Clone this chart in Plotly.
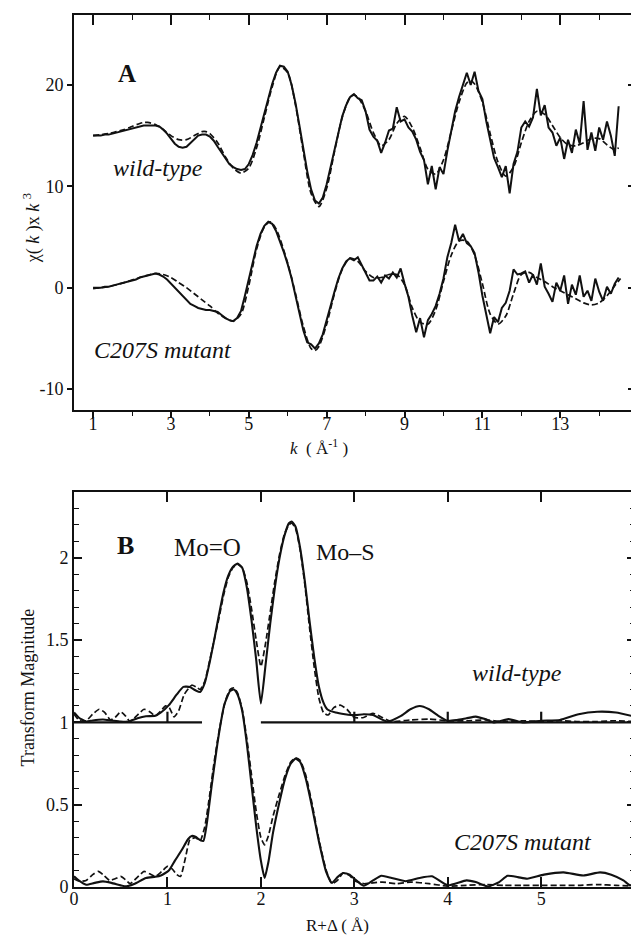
import numpy as np
import plotly.graph_objects as go

# ---------------- Panel A data: chi(k)*k^3 ----------------
k_exp = np.round(np.arange(10, 146) / 10.0, 1)  # 1.0 .. 14.5 sampling grid

wt_exp = [15.0, 15.0, 15.0, 15.1, 15.1, 15.2, 15.3, 15.4, 15.5, 15.6,
          15.7, 15.8, 15.9, 16.0, 16.0, 16.0, 16.0, 15.9, 15.6, 15.2,
          14.7, 14.2, 13.9, 13.8, 13.9, 14.3, 14.7, 15.0, 15.1, 15.1,
          14.9, 14.5, 13.9, 13.3, 12.7, 12.2, 11.9, 11.7, 11.6, 11.7,
          12.2, 13.1, 14.3, 15.7, 17.2, 18.7, 20.1, 21.2, 21.9, 21.8,
          21.3, 20.0, 18.2, 16.0, 13.7, 11.5, 9.7, 8.6, 8.3, 8.9,
          10.2, 11.8, 13.6, 15.3, 16.9, 18.0, 18.8, 19.1, 18.7, 18.5,
          17.4, 15.6, 14.9, 14.5, 13.3, 14.3, 15.5, 15.7, 17.8, 16.4,
          16.6, 15.8, 15.4, 14.6, 13.4, 12.6, 10.2, 12.0, 9.7, 11.9,
          11.2, 13.5, 15.4, 17.4, 18.8, 19.9, 21.2, 20.0, 21.3, 19.4,
          18.6, 16.4, 14.6, 12.8, 11.9, 10.9, 12.0, 9.3, 12.2, 13.4,
          15.8, 16.4, 15.9, 16.8, 19.6, 17.0, 18.0, 15.8, 15.3, 14.0,
          14.8, 12.7, 14.6, 13.3, 15.6, 14.2, 18.4, 13.6, 15.3, 13.5,
          15.8, 14.6, 16.4, 15.0, 13.0, 17.9]

mut_exp = [0.0, 0.0, 0.0, 0.1, 0.1, 0.2, 0.3, 0.4, 0.5, 0.6,
           0.7, 0.8, 1.0, 1.1, 1.2, 1.3, 1.4, 1.3, 1.1, 0.8,
           0.4, 0.0, -0.5, -0.9, -1.3, -1.6, -1.8, -2.0, -2.1, -2.2,
           -2.2, -2.3, -2.4, -2.7, -3.0, -3.2, -3.3, -3.0, -2.3, -0.8,
           0.9, 2.6, 4.1, 5.3, 6.1, 6.5, 6.3, 5.6, 4.6, 3.5,
           2.3, 0.9, -0.8, -2.5, -4.2, -5.4, -5.6, -6.0, -5.5, -4.6,
           -3.3, -1.8, -0.4, 0.9, 1.9, 2.6, 2.9, 2.7, 3.0, 2.2,
           1.4, 0.7, 0.7, 1.1, 0.5, 1.2, 0.9, 1.5, 1.0, 1.9,
           0.4, -0.9, -2.8, -4.4, -3.0, -4.9, -3.2, -2.6, -1.8, -0.6,
           0.9, 3.0, 4.4, 6.2, 4.6, 5.3, 4.4, 4.1, 3.4, 1.5,
           -0.8, -2.5, -4.5, -2.9, -3.4, -2.0, -1.5, -0.3, 1.8, 1.3,
           1.4, 1.6, 0.5, 1.3, 0.3, 2.4, 0.1, -0.6, -1.4, 0.5,
           -0.3, 1.2, -1.6, 0.3, -0.7, 1.2, -0.9, -0.3, -1.3, 0.9,
           -0.4, -1.3, 0.1, -0.6, 0.4, 1.0]

k_wt_fit = [1.0, 1.2, 1.4, 1.6, 1.8, 2.0, 2.2, 2.3, 2.4, 2.6, 2.8, 3.0, 3.2, 3.4,
            3.6, 3.8, 3.9, 4.0, 4.2, 4.4, 4.6, 4.8, 5.0, 5.2, 5.4, 5.6, 5.8, 6.0,
            6.2, 6.4, 6.6, 6.8, 7.0, 7.2, 7.4, 7.6, 7.7, 7.8, 8.0, 8.2, 8.4, 8.6,
            8.8, 9.0, 9.2, 9.4, 9.6, 9.8, 10.0, 10.2, 10.4, 10.6, 10.7, 10.8, 11.0,
            11.2, 11.4, 11.6, 11.8, 12.0, 12.2, 12.4, 12.6, 12.8, 13.0, 13.2, 13.4,
            13.6, 13.8, 14.0, 14.2, 14.4, 14.5]
wt_fit = [15.0, 15.1, 15.2, 15.4, 15.6, 15.9, 16.2, 16.3, 16.3, 16.1, 15.6, 15.0, 14.6, 14.6,
          15.0, 15.4, 15.4, 15.2, 14.3, 12.9, 11.8, 11.3, 11.8, 13.8, 16.8, 19.8, 21.8, 21.2,
          18.0, 13.4, 9.3, 8.0, 9.8, 13.4, 16.8, 18.8, 19.0, 18.8, 17.4, 15.3, 14.0, 14.6,
          16.2, 16.9, 15.8, 13.8, 11.7, 11.2, 12.6, 15.4, 18.3, 20.2, 20.4, 20.1, 18.3,
          15.2, 12.4, 11.0, 11.9, 14.3, 16.4, 17.4, 17.1, 16.0, 14.8, 14.1, 14.0,
          14.3, 14.7, 14.7, 14.1, 13.6, 13.8]

k_mut_fit = [1.0, 1.4, 1.8, 2.2, 2.6, 2.8, 3.0, 3.2, 3.4, 3.6, 3.8, 4.0, 4.2, 4.4, 4.6,
             4.8, 5.0, 5.2, 5.4, 5.55, 5.7, 6.0, 6.2, 6.4, 6.6, 6.7, 6.8, 7.0, 7.2,
             7.4, 7.6, 7.8, 8.0, 8.2, 8.4, 8.6, 8.8, 9.0, 9.2, 9.4, 9.6, 9.8, 10.0,
             10.2, 10.4, 10.6, 10.8, 11.0, 11.2, 11.4, 11.6, 11.8, 12.0, 12.2, 12.4,
             12.6, 12.8, 13.0, 13.2, 13.4, 13.6, 13.8, 14.0, 14.2, 14.4, 14.55]
mut_fit = [-0.1, 0.1, 0.5, 1.0, 1.4, 1.3, 1.0, 0.5, 0.0, -0.6, -1.2, -1.8, -2.5, -3.0, -3.3,
           -2.6, 0.2, 3.8, 6.0, 6.5, 5.8, 2.4, -0.6, -3.8, -6.0, -6.2, -5.8, -3.6, -0.6,
           1.8, 2.9, 2.6, 1.6, 1.0, 1.0, 1.3, 1.3, 0.3, -2.0, -3.4, -3.6, -2.2, 0.6,
           3.2, 4.6, 4.6, 3.2, 0.4, -2.6, -3.6, -2.8, -0.6, 1.3, 1.5, 1.0,
           0.6, 0.1, -0.3, -0.7, -1.1, -1.5, -1.7, -1.5, -0.8, 0.2, 0.9]

# ---------------- Panel B data: Fourier transform magnitude ----------------
r_wt_exp = [0.00, 0.05, 0.13, 0.2, 0.31, 0.4, 0.5, 0.58, 0.68, 0.77, 0.87, 0.93, 1.015,
            1.1, 1.17, 1.24, 1.3, 1.35, 1.40, 1.45, 1.5, 1.55, 1.6, 1.65, 1.7, 1.75,
            1.8, 1.85, 1.9, 1.95, 2.0, 2.05, 2.1, 2.15, 2.2, 2.25, 2.3, 2.33, 2.37,
            2.42, 2.47, 2.52, 2.57, 2.62, 2.67, 2.71, 2.8, 2.9, 3.0, 3.1, 3.2, 3.35,
            3.5, 3.6, 3.7, 3.8, 3.9, 4.0, 4.1, 4.2, 4.3, 4.4, 4.5, 4.65, 4.8, 5.0,
            5.2, 5.4, 5.6, 5.8, 6.0]
wt_exp_ft = [1.06, 1.03, 1.005, 1.012, 1.018, 1.012, 1.005, 1.005, 1.025, 1.037, 1.04, 1.06, 1.105,
             1.17, 1.216, 1.215, 1.195, 1.185, 1.24, 1.36, 1.50, 1.65, 1.79, 1.89, 1.945, 1.965,
             1.94, 1.82, 1.62, 1.38, 1.115, 1.35, 1.60, 1.82, 2.0, 2.13, 2.21, 2.22, 2.19,
             2.06, 1.86, 1.62, 1.40, 1.22, 1.12, 1.08, 1.06, 1.05, 1.044, 1.05, 1.045, 1.005,
             1.04, 1.08, 1.10, 1.08, 1.04, 1.01, 1.015, 1.025, 1.035, 1.02, 1.0, 1.02, 1.0, 1.01,
             1.015, 1.05, 1.065, 1.06, 1.035]

r_wt_fit = [0.00, 0.06, 0.13, 0.2, 0.27, 0.33, 0.39, 0.44, 0.5, 0.55, 0.6, 0.67, 0.75,
            0.81, 0.87, 0.93, 0.98, 1.02, 1.07, 1.12, 1.18, 1.26, 1.31, 1.35, 1.40, 1.45,
            1.5, 1.55, 1.6, 1.65, 1.7, 1.75, 1.8, 1.85, 1.9, 1.95, 2.0, 2.05, 2.1, 2.15,
            2.2, 2.25, 2.3, 2.33, 2.37, 2.42, 2.47, 2.52, 2.57, 2.62, 2.67, 2.72, 2.78,
            2.85, 2.92, 3.0, 3.1, 3.2, 3.3, 3.4, 3.6, 3.8, 4.0, 4.2, 4.4, 4.6, 4.8, 5.0,
            5.2, 5.4, 5.6, 5.8, 6.0]
wt_fit_ft = [1.05, 1.01, 1.01, 1.05, 1.08, 1.06, 1.015, 1.03, 1.064, 1.04, 1.005, 1.04, 1.08,
             1.065, 1.04, 1.07, 1.10, 1.09, 1.034, 1.07, 1.17, 1.226, 1.215, 1.20, 1.25, 1.37,
             1.50, 1.63, 1.77, 1.88, 1.94, 1.96, 1.94, 1.85, 1.69, 1.50, 1.34, 1.48, 1.67, 1.86,
             2.02, 2.14, 2.20, 2.21, 2.18, 2.05, 1.84, 1.58, 1.34, 1.15, 1.06, 1.045, 1.09,
             1.105, 1.08, 1.03, 1.03, 1.055, 1.03, 1.005, 1.015, 1.02, 1.01, 1.01, 1.015, 1.005, 1.01, 1.005,
             1.01, 1.005, 1.005, 1.01, 1.005]

r_mut_exp = [0.00, 0.05, 0.13, 0.22, 0.31, 0.4, 0.5, 0.56, 0.65, 0.77, 0.87, 0.93, 1.015,
             1.08, 1.155, 1.22, 1.26, 1.3, 1.35, 1.385, 1.42, 1.47, 1.54, 1.61, 1.67, 1.71,
             1.75, 1.8, 1.85, 1.9, 1.95, 2.0, 2.04, 2.08, 2.13, 2.2, 2.26, 2.32, 2.37, 2.42,
             2.48, 2.55, 2.62, 2.7, 2.76, 2.82, 2.88, 2.95, 3.0, 3.1, 3.2, 3.29, 3.4, 3.55,
             3.7, 3.83, 4.0, 4.2, 4.3, 4.43, 4.55, 4.64, 4.75, 4.85, 5.03, 5.24, 5.45, 5.63,
             5.75, 5.88, 5.95, 6.0]
mut_exp_ft = [0.065, 0.04, 0.014, 0.025, 0.034, 0.025, 0.01, 0.004, 0.02, 0.055, 0.062, 0.07, 0.10,
              0.16, 0.226, 0.29, 0.31, 0.305, 0.285, 0.28, 0.38, 0.60, 0.89, 1.11, 1.19, 1.20,
              1.17, 1.07, 0.87, 0.62, 0.37, 0.16, 0.055, 0.15, 0.33, 0.52, 0.66, 0.75, 0.78, 0.76,
              0.66, 0.48, 0.28, 0.09, 0.025, 0.06, 0.085, 0.075, 0.05, 0.008, 0.04, 0.068, 0.055, 0.035,
              0.055, 0.065, 0.01, 0.04, 0.03, 0.003, 0.03, 0.068, 0.06, 0.05, 0.075, 0.089, 0.07, 0.089,
              0.075, 0.04, 0.01, 0.02]

r_mut_fit = [0.00, 0.06, 0.13, 0.2, 0.26, 0.32, 0.38, 0.44, 0.5, 0.55, 0.6, 0.68, 0.75,
             0.81, 0.87, 0.94, 1.0, 1.05, 1.1, 1.14, 1.19, 1.24, 1.3, 1.35, 1.40, 1.45,
             1.5, 1.56, 1.62, 1.67, 1.71, 1.75, 1.8, 1.85, 1.9, 1.95, 2.0, 2.04, 2.08, 2.13,
             2.2, 2.26, 2.32, 2.37, 2.42, 2.48, 2.55, 2.62, 2.7, 2.76, 2.82, 2.88, 2.95,
             3.0, 3.1, 3.2, 3.3, 3.45, 3.6, 3.8, 4.0, 4.2, 4.4, 4.6, 4.8, 5.0, 5.2, 5.4,
             5.6, 5.8, 6.0]
mut_fit_ft = [0.05, 0.035, 0.04, 0.075, 0.095, 0.07, 0.04, 0.05, 0.064, 0.045, 0.02, 0.06, 0.095,
              0.08, 0.064, 0.095, 0.125, 0.11, 0.075, 0.064, 0.17, 0.287, 0.30, 0.28, 0.367, 0.55,
              0.76, 0.97, 1.13, 1.20, 1.21, 1.18, 1.08, 0.90, 0.68, 0.46, 0.30, 0.256, 0.31, 0.43,
              0.57, 0.68, 0.76, 0.785, 0.77, 0.68, 0.50, 0.29, 0.10, 0.02, 0.04, 0.085, 0.07,
              0.04, 0.02, 0.025, 0.03, 0.02, 0.03, 0.02, 0.005, 0.01, 0.015, 0.01, 0.01, 0.01, 0.01, 0.01,
              0.015, 0.01, 0.005]

# wild-type baseline (offset 1) drawn with a gap, plus its small R ticks
baseline_level = 1.0
baseline_segments = [(0.0, 1.37), (2.0, 6.0)]
baseline_ticks = [1, 3, 4, 5]
baseline_tick_height = 0.065

# tick values / labels
a_xticks = [1, 3, 5, 7, 9, 11, 13]
a_xminor = [2, 4, 6, 8, 10, 12, 14]
a_yticks = [-10, 0, 10, 20]
a_yticktext = ["-10", "0", "10", "20"]
b_xticks = [0, 1, 2, 3, 4, 5, 6]
b_yticks = [0, 0.5, 1, 1.5, 2]
b_yticktext = ["0", "0.5", "1", "1.5", "2"]

SERIF = "Liberation Serif"
BLACK = "#111111"
DASH = "6px,3px"

fig = go.Figure()

# Panel A
fig.add_trace(go.Scatter(x=k_exp, y=wt_exp, mode="lines", line=dict(color=BLACK, width=2),
                         xaxis="x", yaxis="y", showlegend=False, hoverinfo="skip"))
fig.add_trace(go.Scatter(x=k_wt_fit, y=wt_fit, mode="lines",
                         line=dict(color=BLACK, width=1.7, dash=DASH, shape="spline", smoothing=0.8),
                         xaxis="x", yaxis="y", showlegend=False, hoverinfo="skip"))
fig.add_trace(go.Scatter(x=k_exp, y=mut_exp, mode="lines", line=dict(color=BLACK, width=2),
                         xaxis="x", yaxis="y", showlegend=False, hoverinfo="skip"))
fig.add_trace(go.Scatter(x=k_mut_fit, y=mut_fit, mode="lines",
                         line=dict(color=BLACK, width=1.7, dash=DASH, shape="spline", smoothing=0.8),
                         xaxis="x", yaxis="y", showlegend=False, hoverinfo="skip"))
# invisible trace so that the mirror axes of panel A are rendered
fig.add_trace(go.Scatter(x=[None], y=[None], xaxis="x3", yaxis="y3", showlegend=False, hoverinfo="skip"))

# Panel B baseline
bx, by = [], []
for a, b in baseline_segments:
    bx += [a, b, None]
    by += [baseline_level, baseline_level, None]
for t in baseline_ticks:
    bx += [t, t, None]
    by += [baseline_level, baseline_level + baseline_tick_height, None]
fig.add_trace(go.Scatter(x=bx, y=by, mode="lines", line=dict(color=BLACK, width=2.2),
                         xaxis="x2", yaxis="y2", showlegend=False, hoverinfo="skip"))

for xs, ys, dashed in [(r_wt_exp, wt_exp_ft, False), (r_wt_fit, wt_fit_ft, True),
                       (r_mut_exp, mut_exp_ft, False), (r_mut_fit, mut_fit_ft, True)]:
    fig.add_trace(go.Scatter(x=xs, y=ys, mode="lines",
                             line=dict(color=BLACK, width=2.1 if not dashed else 1.7,
                                       dash=DASH if dashed else "solid",
                                       shape="spline", smoothing=0.5),
                             xaxis="x2", yaxis="y2", showlegend=False, hoverinfo="skip"))

tickfont = dict(family=SERIF, size=18, color=BLACK)
common = dict(showgrid=False, zeroline=False, showline=True, linecolor=BLACK, linewidth=1.6,
              tickcolor=BLACK, tickwidth=1.6, tickfont=tickfont)

A_RANGE_X = [0.51, 14.92]
A_RANGE_Y = [-12.07, 26.9]
B_RANGE_X = [0, 6.004]

# the page body adds an 8 px offset, so the figure is sized/margined to compensate
fig.update_layout(
    width=631, height=927,
    margin=dict(l=66, r=2, t=7, b=48),
    paper_bgcolor="white", plot_bgcolor="white",
    font=dict(family=SERIF, color=BLACK),
    xaxis=dict(domain=[0, 1], anchor="y", range=A_RANGE_X, tickmode="array", tickvals=a_xticks,
               ticks="outside", ticklen=6, ticklabelstandoff=-9,
               minor=dict(tickmode="array", tickvals=a_xminor, ticks="outside", ticklen=4,
                          tickcolor=BLACK, tickwidth=1.2, showgrid=False),
               **common),
    xaxis3=dict(overlaying="x", side="top", anchor="y", range=A_RANGE_X, tickmode="array",
                tickvals=a_xticks, ticks="inside", ticklen=10, showticklabels=False,
                minor=dict(tickmode="array", tickvals=a_xminor, ticks="inside", ticklen=5,
                           tickcolor=BLACK, tickwidth=1.2, showgrid=False),
                **common),
    yaxis=dict(domain=[0.547, 1], anchor="x", range=A_RANGE_Y, tickmode="array", tickvals=a_yticks,
               ticktext=a_yticktext, ticks="outside", ticklen=5, **common),
    yaxis3=dict(overlaying="y", side="right", anchor="x", range=A_RANGE_Y, tickmode="array",
                tickvals=a_yticks, ticks="inside", ticklen=7, showticklabels=False, **common),
    xaxis2=dict(domain=[0, 1], anchor="y2", range=B_RANGE_X, tickmode="array", tickvals=b_xticks,
                ticks="inside", ticklen=10, mirror="ticks", ticklabelstandoff=-5, **common),
    yaxis2=dict(domain=[0, 0.453], anchor="x2", range=[0, 2.4], tickmode="array", tickvals=b_yticks,
                ticktext=b_yticktext, ticks="inside", ticklen=8, mirror="ticks",
                minor=dict(dtick=0.1, ticks="inside", ticklen=5, tickcolor=BLACK, tickwidth=1.2,
                           showgrid=False),
                **common),
)

def label(x, y, text, size, xref="paper", yref="paper", angle=0):
    return dict(x=x, y=y, xref=xref, yref=yref, text=text, showarrow=False, textangle=angle,
                xanchor="center", yanchor="middle",
                font=dict(family=SERIF, size=size, color=BLACK))

ann = [
    # Panel A labels
    label(1.87, 21.1, "<b>A</b>", 25, "x", "y"),
    label(2.66, 11.85, "<i>wild-type</i>", 24, "x", "y"),
    label(2.79, -6.1, "<i>C207S mutant</i>", 24, "x", "y"),
    # Panel B labels
    label(0.55, 2.077, "<b>B</b>", 26, "x2", "y2"),
    label(1.43, 2.065, "Mo=O", 25, "x2", "y2"),
    label(2.91, 2.035, "Mo\u2013S", 24, "x2", "y2"),
    label(4.74, 1.30, "<i>wild-type</i>", 24, "x2", "y2"),
    label(4.80, 0.275, "<i>C207S mutant</i>", 24, "x2", "y2"),
    # Axis titles
    label(-0.0746, 0.7557, "\u03c7( <i>k</i> )x <i>k</i> <sup>3</sup>", 18, angle=-90),
    label(0.437, 0.5046, "<i>k</i>  ( Å<sup>-1</sup> )", 17),
    label(-0.0817, 0.229, "Transform Magnitude", 18, angle=-90),
    label(0.469, -0.0436, "R+\u0394 ( Å)", 17),
]
fig.update_layout(annotations=ann)

fig.write_html("out.html")
